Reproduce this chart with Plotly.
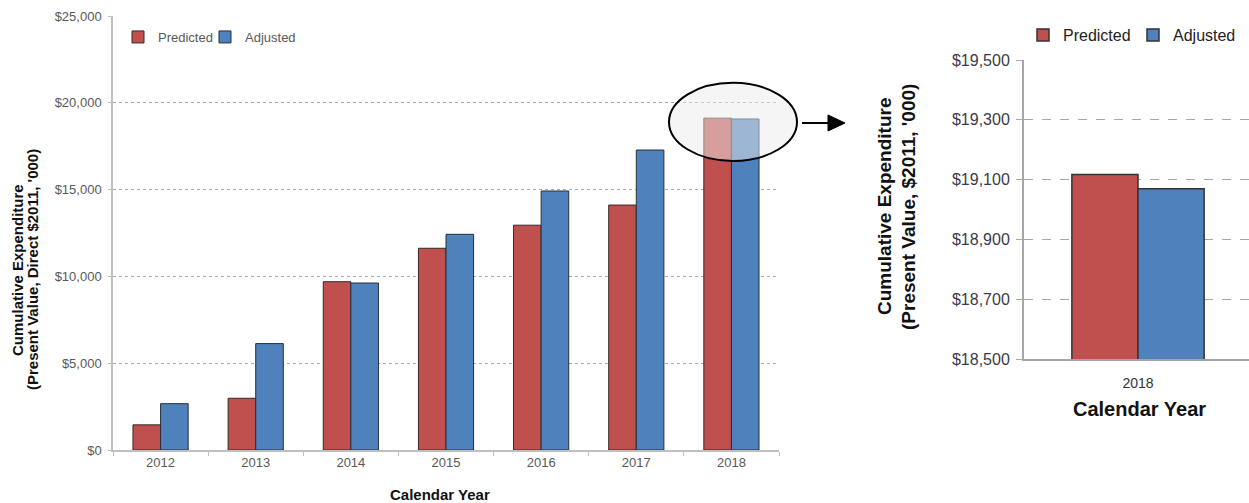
import plotly.graph_objects as go

# Cumulative expenditure by calendar year ($2011, '000)
years = ["2012", "2013", "2014", "2015", "2016", "2017", "2018"]
predicted = [1450, 2980, 9695, 11620, 12950, 14110, 19117]
adjusted = [2670, 6130, 9620, 12425, 14920, 17280, 19069]

W, H = 1249, 503
RED = "#C0504D"
BLUE = "#4F81BD"
FONT = "Arial, Liberation Sans, sans-serif"


def px(x):
    return x / W


def py(y):
    return 1 - y / H


fig = go.Figure()

# Left panel: all years
fig.add_trace(go.Bar(x=years, y=predicted, name="Predicted", marker=dict(color=RED, line=dict(color="#3a2626", width=1)),
                     xaxis="x", yaxis="y", legend="legend"))
fig.add_trace(go.Bar(x=years, y=adjusted, name="Adjusted", marker=dict(color=BLUE, line=dict(color="#26303a", width=1)),
                     xaxis="x", yaxis="y", legend="legend3"))

# Right panel: close-up of the final year
fig.add_trace(go.Bar(x=years[-1:], y=predicted[-1:], name="Predicted", marker=dict(color=RED, line=dict(color="#333333", width=1.5)),
                     xaxis="x2", yaxis="y2", legend="legend2"))
fig.add_trace(go.Bar(x=years[-1:], y=adjusted[-1:], name="Adjusted", marker=dict(color=BLUE, line=dict(color="#333333", width=1.5)),
                     xaxis="x2", yaxis="y2", legend="legend4"))

left_grey = "#595959"


def legend_at(x, y, size, color):
    return dict(orientation="h", x=px(x), y=py(y), xanchor="left", yanchor="middle", visible=True,
                font=dict(size=size, color=color), bgcolor="rgba(0,0,0,0)")


fig.update_layout(
    width=W, height=H, autosize=False, showlegend=True,
    margin=dict(l=0, r=0, t=0, b=0, pad=0),
    paper_bgcolor="white", plot_bgcolor="white",
    barmode="group", bargap=0.42, bargroupgap=0,
    font=dict(family=FONT),
    xaxis=dict(domain=[px(113), px(779)], type="category", anchor="y", automargin=False,
               range=[-0.5, 6.5],
               showline=True, linecolor="#BFBFBF", linewidth=1.5,
               ticks="outside", tickson="boundaries", ticklen=4, tickcolor="#BFBFBF",
               tickfont=dict(size=13, color=left_grey), showgrid=False),
    yaxis=dict(domain=[py(450), py(16)], range=[0, 25000], dtick=5000, anchor="x", automargin=False,
               tickprefix="$", tickformat=",", showline=True, linecolor="#BFBFBF", linewidth=1.5,
               ticks="outside", ticklen=3, tickcolor="#BFBFBF", ticklabelstandoff=4,
               tickfont=dict(size=13, color=left_grey),
               showgrid=True, gridcolor="#A6A6A6", griddash="dot", gridwidth=1, zeroline=False),
    xaxis2=dict(domain=[px(1024), 1.0], type="category", anchor="y2", range=[-0.5, 0.4868], automargin=False,
                showline=True, linecolor="#A6A6A6", linewidth=2, ticklabelstandoff=10,
                ticks="", tickfont=dict(size=14, color="#333333"), showgrid=False),
    yaxis2=dict(domain=[py(359), py(60)], range=[18500, 19500], tick0=18500, dtick=200, anchor="x2",
                automargin=False,
                tickprefix="$", tickformat=",", showline=True, linecolor="#A6A6A6", linewidth=2,
                ticks="outside", ticklen=6, tickcolor="#A6A6A6", ticklabelstandoff=3,
                tickfont=dict(size=16, color="#3a3a4a"),
                showgrid=True, gridcolor="#A6A6A6", griddash="dash", gridwidth=1, zeroline=False),
    legend=legend_at(118, 37, 13, left_grey),
    legend3=legend_at(205, 37, 13, left_grey),
    legend2=legend_at(1023, 35, 16, "#222222"),
    legend4=legend_at(1133, 35, 16, "#222222"),
)

# Axis titles
title_ann = [
    dict(text="Cumulative Expenditure", x=px(17), y=py(270), size=15, angle=-90),
    dict(text="(Present Value, Direct $2011, '000)", x=px(32), y=py(270), size=15, angle=-90),
    dict(text="Calendar Year", x=px(440), y=py(494), size=15, angle=0),
    dict(text="Cumulative Expenditure", x=px(884), y=py(206), size=19, angle=-90),
    dict(text="(Present Value, $2011, '000)", x=px(908), y=py(207), size=19, angle=-90),
    dict(text="Calendar Year", x=px(1139), y=py(409), size=20, angle=0),
]
for a in title_ann:
    fig.add_annotation(text=a["text"], xref="paper", yref="paper", x=a["x"], y=a["y"],
                       xanchor="center", yanchor="middle", showarrow=False, textangle=a["angle"],
                       font=dict(family=FONT, size=a["size"], color="#111111", weight="bold"))

# Highlight ellipse around the final year's bar tops (extends past the plot edge)
fig.add_shape(type="circle", xref="paper", yref="y", x0=px(669), x1=px(797), y0=16650, y1=21150,
              line=dict(color="black", width=2), fillcolor="rgba(236,236,236,0.5)", layer="above")

# Arrow pointing to the close-up panel
fig.add_shape(type="line", xref="paper", yref="paper", x0=px(802), x1=px(832), y0=py(123), y1=py(123),
              line=dict(color="black", width=2))
fig.add_shape(type="path", xref="paper", yref="paper",
              path=f"M {px(828)} {py(115)} L {px(845)} {py(123)} L {px(828)} {py(131)} Z",
              fillcolor="black", line=dict(color="black", width=1))

fig.write_html("out.html")
